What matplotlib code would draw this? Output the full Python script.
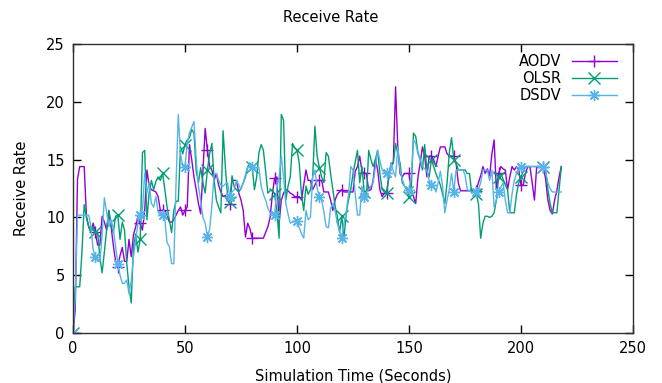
#!/usr/bin/env python3
"""Receive Rate of AODV / OLSR / DSDV over simulation time (gnuplot look)."""
import matplotlib
matplotlib.use('Agg')
import matplotlib.pyplot as plt
import numpy as np

plt.rcParams['font.family'] = ['DejaVu Sans']

# one sample per simulated second, 0 .. 218 s
time_s = np.arange(219)

aodv = [
    0, 2.0, 13.3, 14.4, 14.4, 14.4, 10.1, 9.2, 8.7, 9.5,
    8.7, 7.6, 7.6, 10.1, 9.6, 8.9, 10.6, 9.2, 7.6, 6.2,
    5.7, 6.7, 7.4, 6.2, 6.2, 8.1, 6.6, 8.5, 9.2, 10.1,
    9.5, 8.9, 10.6, 14.1, 12.7, 12.4, 12.3, 12.2, 11.8, 10.6,
    10.6, 10.6, 10.2, 9.6, 9.6, 9.8, 10.2, 10.6, 10.9, 10.2,
    10.6, 10.9, 16.3, 15.0, 13.5, 12.4, 11.2, 10.3, 14.0, 17.7,
    15.8, 14.4, 14.1, 13.2, 13.8, 12.8, 12.2, 11.8, 11.9, 11.5,
    11.2, 13.2, 13.2, 13.2, 12.1, 11.5, 10.6, 8.3, 9.5, 9.0,
    8.2, 8.2, 8.2, 8.2, 8.2, 8.2, 8.7, 9.2, 10.0, 12.0,
    13.4, 13.5, 9.5, 11.5, 12.1, 12.4, 12.3, 12.1, 12.0, 11.8,
    11.8, 11.8, 11.5, 12.8, 14.1, 13.2, 13.2, 12.4, 12.8, 13.2,
    13.2, 13.2, 12.2, 12.2, 12.2, 11.5, 10.6, 11.5, 12.0, 12.2,
    12.4, 12.2, 12.2, 12.2, 12.2, 12.2, 14.0, 14.4, 15.3, 14.0,
    13.8, 13.8, 12.3, 12.4, 13.2, 15.0, 14.1, 12.4, 11.8, 12.1,
    12.1, 13.5, 14.7, 14.7, 21.3, 16.1, 13.8, 13.5, 13.8, 13.8,
    13.8, 12.4, 11.8, 11.2, 13.5, 14.7, 16.1, 15.3, 13.5, 15.3,
    15.3, 15.0, 14.4, 15.3, 16.1, 16.1, 16.1, 15.5, 15.3, 15.3,
    15.3, 14.7, 13.0, 12.3, 12.3, 12.3, 12.3, 12.3, 12.3, 12.3,
    12.3, 13.0, 13.6, 14.4, 13.8, 14.2, 13.6, 15.5, 16.7, 12.4,
    13.8, 14.4, 14.2, 14.1, 12.4, 13.5, 14.4, 14.1, 14.4, 14.1,
    12.8, 12.8, 13.8, 14.4, 14.4, 13.0, 11.5, 14.4, 14.4, 14.4,
    14.4, 13.3, 11.5, 10.6, 10.3, 11.5, 12.3, 13.5, 14.4,
]

olsr = [
    0, 4.0, 4.0, 4.0, 7.0, 11.1, 10.0, 9.2, 8.7, 9.2,
    8.7, 8.7, 6.5, 5.2, 7.0, 8.9, 10.6, 9.2, 8.7, 10.1,
    10.2, 8.1, 9.6, 8.9, 6.0, 4.0, 2.6, 7.5, 8.5, 7.0,
    8.1, 15.6, 15.8, 9.8, 12.1, 13.2, 12.4, 13.1, 13.5, 13.2,
    13.8, 12.4, 10.9, 9.8, 8.7, 10.6, 11.4, 11.4, 16.1, 15.5,
    16.3, 16.7, 16.9, 17.6, 17.3, 14.0, 13.0, 14.3, 13.0, 12.1,
    14.1, 15.5, 16.4, 13.2, 11.5, 10.9, 10.4, 17.5, 14.4, 11.8,
    11.3, 13.6, 12.6, 12.4, 12.2, 12.5, 13.0, 13.5, 14.4, 14.7,
    14.4, 12.4, 13.5, 15.6, 16.3, 15.8, 14.0, 12.1, 12.3, 12.4,
    12.0, 10.6, 8.2, 18.9, 18.4, 11.5, 12.7, 13.5, 16.4, 16.0,
    15.8, 14.7, 12.0, 10.6, 12.7, 12.0, 12.4, 13.5, 17.9, 15.3,
    14.3, 13.5, 13.0, 15.6, 15.3, 13.8, 12.4, 11.0, 10.1, 8.7,
    10.1, 8.3, 10.4, 11.5, 12.4, 13.8, 14.8, 15.8, 13.0, 14.4,
    12.2, 11.8, 15.8, 15.0, 14.4, 15.0, 15.8, 13.8, 12.4, 12.2,
    12.1, 13.5, 14.4, 14.7, 16.4, 15.5, 14.7, 13.0, 12.7, 12.4,
    11.8, 12.4, 17.3, 17.0, 15.6, 15.0, 14.1, 16.3, 14.0, 13.5,
    15.0, 14.4, 13.8, 13.3, 12.8, 12.0, 11.2, 13.0, 15.6, 16.9,
    15.0, 14.7, 14.1, 14.1, 14.1, 14.1, 13.8, 13.8, 12.1, 12.2,
    12.0, 11.2, 8.2, 9.5, 10.1, 10.1, 10.0, 10.1, 10.4, 11.5,
    13.5, 13.8, 13.3, 12.8, 12.4, 10.4, 10.4, 10.4, 12.0, 13.0,
    13.5, 14.0, 14.4, 14.4, 14.4, 14.4, 14.4, 14.4, 14.4, 14.4,
    14.4, 14.1, 12.4, 11.2, 10.4, 10.4, 10.4, 12.4, 14.4,
]

dsdv = [
    0, 3.0, 10.2, 10.2, 10.2, 10.2, 10.2, 10.2, 9.2, 7.2,
    6.6, 6.2, 6.2, 8.5, 11.7, 10.5, 9.2, 9.8, 9.0, 7.5,
    6.0, 5.0, 4.3, 4.3, 4.6, 3.4, 4.5, 6.6, 8.0, 9.5,
    10.2, 10.6, 13.8, 12.1, 13.0, 11.2, 10.9, 11.8, 10.5, 10.2,
    10.2, 9.8, 7.8, 7.5, 6.0, 6.0, 13.0, 18.9, 15.5, 14.4,
    14.4, 16.4, 17.3, 17.8, 18.3, 15.0, 12.7, 11.5, 10.0, 9.5,
    8.3, 9.0, 11.0, 13.7, 13.8, 13.2, 12.8, 12.7, 12.9, 13.0,
    11.8, 12.2, 12.4, 13.2, 12.8, 12.4, 13.0, 13.7, 14.4, 14.4,
    14.4, 14.3, 14.3, 14.3, 12.7, 12.0, 11.5, 10.8, 10.4, 10.3,
    10.2, 12.5, 13.5, 15.3, 13.5, 11.2, 10.3, 9.5, 9.6, 9.7,
    9.7, 9.1, 8.6, 8.2, 10.6, 9.8, 10.0, 13.5, 14.1, 12.5,
    11.8, 11.5, 10.5, 9.2, 9.1, 10.8, 11.2, 10.6, 9.5, 8.8,
    8.2, 9.5, 10.5, 12.0, 14.4, 14.1, 12.0, 10.2, 10.2, 12.7,
    11.8, 12.2, 12.4, 12.7, 13.0, 14.4, 15.8, 14.9, 14.1, 13.9,
    13.8, 13.5, 14.7, 14.0, 13.5, 16.1, 14.1, 13.3, 12.7, 12.5,
    12.4, 13.5, 16.7, 16.4, 15.5, 15.0, 14.4, 14.2, 14.1, 13.2,
    12.8, 12.8, 12.2, 13.0, 14.0, 12.7, 10.4, 11.5, 12.4, 13.8,
    12.2, 14.1, 14.1, 14.1, 14.1, 13.7, 12.4, 12.3, 12.2, 12.2,
    12.2, 12.4, 13.0, 14.1, 14.1, 14.1, 13.2, 14.1, 10.9, 11.5,
    12.2, 12.6, 13.0, 11.5, 10.4, 10.4, 12.0, 13.2, 13.8, 14.1,
    14.4, 14.4, 14.4, 14.4, 14.4, 14.4, 14.4, 14.4, 14.4, 14.4,
    14.4, 14.0, 13.0, 12.5, 12.2, 12.2, 12.2, 12.2, 12.2,
]

labels = ['AODV', 'OLSR', 'DSDV']
colors = ['#9400d3', '#009e73', '#56b4e9']
markers = ['+', 'x', (8, 2, 0)]

W, H = 662, 383
fig = plt.figure(figsize=(W / 100, H / 100), dpi=100)
ax = fig.add_axes([73 / W, 1 - 333 / H, (633 - 73) / W, (333 - 44) / H])

for series, lab, col, mk in zip([aodv, olsr, dsdv], labels, colors, markers):
    ax.plot(time_s, series, color=col, lw=1.0, marker=mk, markevery=10,
            markersize=8, markeredgewidth=1.0, label=lab)

ax.set_xlim(0, 250)
ax.set_ylim(0, 25)
ax.set_xticks(np.arange(0, 251, 50))
ax.set_yticks(np.arange(0, 26, 5))
ax.tick_params(direction='in', length=6, width=1, top=True, right=True,
               labelsize=10.5, colors='#000000', pad=6)
for s in ax.spines.values():
    s.set_linewidth(1.0)
    s.set_color('#303030')

fig.text(0.5, 1 - 18 / H, 'Receive Rate', ha='center', va='center', fontsize=10.5)
fig.text((73 + 633) / 2 / W, 1 - 376 / H, 'Simulation Time (Seconds)',
         ha='center', va='center', fontsize=10.5)
fig.text(22 / W, 1 - 188 / H, 'Receive Rate', ha='center', va='center',
         rotation=90, fontsize=10.5)

ax.legend(loc='upper right', bbox_to_anchor=(617 / W, 1 - 54 / H),
          bbox_transform=fig.transFigure, frameon=False, markerfirst=False,
          fontsize=10.5, handlelength=3.1, handletextpad=0.7, labelspacing=0.13,
          borderpad=0, borderaxespad=0)

fig.savefig('out.png', dpi=100, facecolor='white')
